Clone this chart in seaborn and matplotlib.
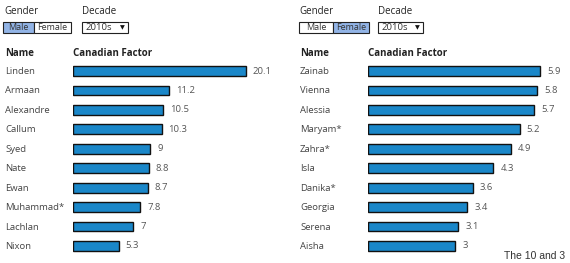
import matplotlib
matplotlib.use("Agg")
import matplotlib.pyplot as plt
import matplotlib.patches as mpatches
import seaborn as sns
import pandas as pd

male_names = ["Linden", "Armaan", "Alexandre", "Callum", "Syed", "Nate", "Ewan",
              "Muhammad*", "Lachlan", "Nixon"]
male_values = [20.1, 11.2, 10.5, 10.3, 9, 8.8, 8.7, 7.8, 7, 5.3]
male_labels = ["20.1", "11.2", "10.5", "10.3", "9", "8.8", "8.7", "7.8", "7", "5.3"]

female_names = ["Zainab", "Vienna", "Alessia", "Maryam*", "Zahra*", "Isla", "Danika*",
                "Georgia", "Serena", "Aisha"]
female_values = [5.9, 5.8, 5.7, 5.2, 4.9, 4.3, 3.6, 3.4, 3.1, 3]
female_labels = ["5.9", "5.8", "5.7", "5.2", "4.9", "4.3", "3.6", "3.4", "3.1", "3"]

sns.set_theme(style="white")
plt.rcParams['font.family'] = ['Open Sans', 'DejaVu Sans']

W, H = 570, 263
fig = plt.figure(figsize=(W / 100, H / 100), dpi=100)
fig.patch.set_facecolor("white")

BAR = "#1a87c9"
NAME_C = "#444444"
VAL_C = "#555555"


def fx(px):
    return px / W


def fy(py):
    return 1 - py / H


def panel(x0, x1, names, values, labels, bar_end_px, selected, gx, dx0, dx1, btn):
    top, bot = 61.3, 255.7
    ax = fig.add_axes([fx(x0), fy(bot), fx(x1 - x0), (bot - top) / H])
    df = pd.DataFrame({"name": names, "value": values})
    sns.barplot(data=df, x="value", y="name", orient="h", color=BAR, saturation=1,
                width=0.5, edgecolor="#111111", linewidth=1.0, ax=ax)
    xmax = max(values) * (x1 - x0) / (bar_end_px - x0)
    ax.set_xlim(0, xmax)
    ax.set_ylim(len(names) - 0.5, -0.5)
    ax.axis("off")
    for i, (v, lab) in enumerate(zip(values, labels)):
        ax.annotate(lab, (v, i), xytext=(5, 0), textcoords="offset points",
                    ha="left", va="center", fontsize=6.8, color=VAL_C)
    for i, n in enumerate(names):
        fig.text(fx(gx + 2), fy(71.5 + i * 19.44), n, ha="left", va="center",
                 fontsize=6.8, color=NAME_C)
    # headers
    fig.text(fx(gx + 2), fy(53), "Name", ha="left", va="center", fontsize=7,
             fontweight="bold", color="#222222")
    fig.text(fx(x0), fy(53), "Canadian Factor", ha="left", va="center", fontsize=7,
             fontweight="bold", color="#222222")
    fig.text(fx(gx + 1), fy(11), "Gender", ha="left", va="center", fontsize=7,
             color="#222222")
    fig.text(fx(dx0), fy(11), "Decade", ha="left", va="center", fontsize=7,
             color="#222222")
    # buttons
    bx0, bmid, bx1 = btn
    y0, y1 = 22, 33
    for (a, b, lab, sel) in [(bx0, bmid, "Male", selected == "Male"),
                             (bmid, bx1, "Female", selected == "Female")]:
        rect = mpatches.Rectangle((fx(a), fy(y1)), fx(b - a), (y1 - y0) / H,
                                  transform=fig.transFigure,
                                  facecolor="#92b4e6" if sel else "white",
                                  edgecolor="#222222", linewidth=0.8)
        fig.add_artist(rect)
        fig.text(fx((a + b) / 2), fy((y0 + y1) / 2), lab, ha="center", va="center",
                 fontsize=6.5, color="#333333")
    rect = mpatches.Rectangle((fx(dx0), fy(y1)), fx(dx1 - dx0), (y1 - y0) / H,
                              transform=fig.transFigure, facecolor="white",
                              edgecolor="#222222", linewidth=0.8)
    fig.add_artist(rect)
    fig.text(fx(dx0 + 4), fy((y0 + y1) / 2), "2010s", ha="left", va="center",
             fontsize=6.8, color="#333333")
    fig.text(fx(dx1 - 6), fy((y0 + y1) / 2 + 0.5), "▼", ha="center", va="center",
             fontsize=4.5, color="#111111", family=["DejaVu Sans"])


panel(73, 290, male_names, male_values, male_labels, 246, "Male", 3, 82, 128,
      (3, 34, 71))
panel(368, 570, female_names, female_values, female_labels, 540, "Female", 298, 378, 423,
      (299, 333, 369))

fig.text(fx(565), fy(256), "The 10 and 3", ha="right", va="center", fontsize=7.5,
         color="#333333", family=["Liberation Sans"])

fig.savefig("out.png", dpi=100, facecolor="white")
